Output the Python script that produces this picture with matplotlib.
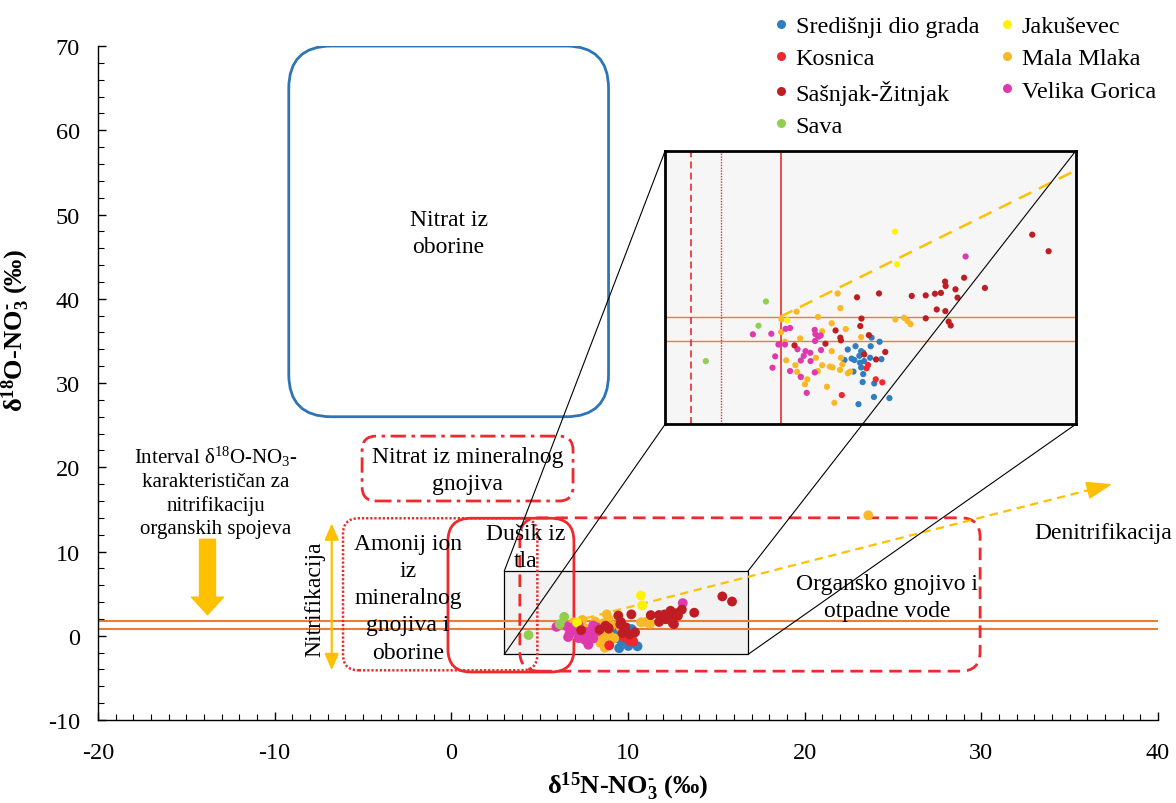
import matplotlib
matplotlib.use("Agg")
import matplotlib.pyplot as plt
from matplotlib.patches import FancyBboxPatch, Rectangle, FancyArrowPatch
from matplotlib.lines import Line2D
from matplotlib.ticker import MultipleLocator

plt.rcParams['font.family'] = ['Liberation Serif', 'DejaVu Serif']
plt.rcParams['mathtext.fontset'] = 'custom'
plt.rcParams['mathtext.rm'] = 'Liberation Serif'
plt.rcParams['mathtext.it'] = 'Liberation Serif:italic'
plt.rcParams['mathtext.bf'] = 'Liberation Serif:bold'
plt.rcParams['lines.scale_dashes'] = False
plt.rcParams['axes.unicode_minus'] = False

# --- data (d15N, d18O) ---
sredisnji_x = [9.14, 9.40, 9.59, 9.53, 9.66, 9.91, 9.94, 10.21, 9.03, 9.27, 9.36, 9.55,
               9.69, 9.89, 10.27, 9.33, 9.59, 9.66, 9.64, 10.03, 10.02, 10.54, 9.50]
sredisnji_y = [0.51, 0.63, 0.45, 0.28, 0.40, 0.63, 0.94, 0.79, 0.13, 0.18, 0.13, 0.03,
               0.09, 0.21, 0.16, -0.29, -0.14, -0.38, -0.67, -0.72, -1.21, -1.25, -1.47]

kosnica_x = [8.94, 10.08, 10.30, 9.82, 9.77]
kosnica_y = [-1.14, -0.57, -0.68, -0.05, -0.17]

sasnjak_x = [9.45, 10.19, 9.60, 9.56, 9.85, 8.73, 8.89, 8.91, 7.35, 8.39, 9.69, 10.09, 10.40,
             11.29, 11.76, 12.07, 12.27, 12.41, 12.43, 12.76, 13.05, 12.83, 13.75, 12.13,
             12.42, 11.76, 12.53, 12.60, 15.34, 15.89]
sasnjak_y = [2.40, 2.54, 1.63, 1.36, 1.03, 1.20, 0.94, 0.84, 0.66, 0.72, 0.33, 0.15, 0.42,
             2.45, 2.47, 2.53, 2.56, 2.97, 2.81, 2.69, 3.11, 2.39, 2.74, 1.96,
             1.90, 1.64, 1.52, 1.38, 4.67, 4.07]

sava_x = [6.39, 6.14, 4.37]
sava_y = [2.25, 1.37, 0.09]

jakusevec_x = [10.73, 10.80, 7.11]
jakusevec_y = [4.78, 3.60, 1.57]

mala_mlaka_x = [8.80, 8.89, 7.42, 8.14, 6.91, 6.90, 7.03, 7.07, 7.54, 8.60, 9.07, 8.28, 9.59,
                8.60, 8.07, 8.13, 8.28, 8.54, 8.63, 8.88, 9.14, 9.22, 8.96, 8.91, 7.38,
                7.44, 7.57, 7.70, 7.78, 8.44, 8.69, 10.74, 11.03, 11.15, 11.25, 23.6]
mala_mlaka_y = [2.54, 2.01, 1.88, 1.69, 1.60, 1.14, 0.79, 0.12, 0.91, 1.46, 1.25, 1.17, 0.96,
                0.45, 0.21, -0.27, -0.06, -0.11, -0.14, -0.23, -0.35, -0.29, -0.03, 0.21, -0.06,
                -0.30, -0.49, -0.75, -0.57, -0.84, -1.42, 1.60, 1.66, 1.54, 1.43, 14.3]

velika_x = [5.95, 6.57, 7.05, 7.20, 8.03, 8.05, 8.23, 8.15, 8.04, 8.24, 6.81, 7.03, 6.70,
            6.61, 7.20, 7.45, 7.66, 7.56, 7.72, 7.88, 7.89, 7.56, 7.76, 8.03, 13.10]
velika_y = [1.06, 1.08, 1.26, 1.29, 1.22, 1.07, 1.02, 0.97, 0.82, 0.49, 0.69, 0.69, 0.26,
            -0.15, -0.27, 0.52, 0.28, 0.11, 0.45, 0.39, 0.09, -0.48, -1.06, -0.32, 3.88]

series = [
    ("Središnji dio grada", sredisnji_x, sredisnji_y, "#2E7EC1"),
    ("Kosnica", kosnica_x, kosnica_y, "#F0282D"),
    ("Sašnjak-Žitnjak", sasnjak_x, sasnjak_y, "#BE1E23"),
    ("Sava", sava_x, sava_y, "#92CF50"),
    ("Jakuševec", jakusevec_x, jakusevec_y, "#FFF200"),
    ("Mala Mlaka", mala_mlaka_x, mala_mlaka_y, "#F9B824"),
    ("Velika Gorica", velika_x, velika_y, "#DE3AAE"),
]
draw_order = [0, 5, 6, 4, 1, 2, 3]

# nitrification interval for d18O and zoom window
interval_y = [0.8, 1.7]
zoom_x = (3.0, 16.8)
zoom_y = (-2.2, 7.7)
denit_start = (6.86, 1.69)
denit_end = (37.4, 18.0)

RED = "#EE2A2E"
ORANGE = "#ED7D31"
YELLOW = "#FFC000"

fig = plt.figure(figsize=(11.76, 8.04), dpi=100)
ax = fig.add_axes([0.0833, 0.1032, 0.9014, 0.8383])
ax.set_xlim(-20, 40)
ax.set_ylim(-10, 70)

# aspect factor so rounded corners come out circular
asp = (0.9014 * 1176 / 60) / (0.8383 * 804 / 80)


def rbox(a, x0, y0, x1, y1, r, **kw):
    p = FancyBboxPatch((x0, y0), x1 - x0, y1 - y0,
                       boxstyle=f"round,pad=0,rounding_size={r}",
                       mutation_aspect=asp, facecolor="none", **kw)
    a.add_patch(p)
    return p


# source boxes
rbox(ax, -9.2, 26.0, 8.9, 70.0, 2.4, edgecolor="#2E75B6", lw=2.0, zorder=2)
rbox(ax, -5.05, 16.0, 6.89, 23.7, 0.8, edgecolor=RED, lw=2.0,
     linestyle=(0, (11, 4, 2.5, 4)), zorder=2)
rbox(ax, -6.13, -4.1, 4.87, 13.95, 0.9, edgecolor=RED, lw=1.8,
     linestyle=(0, (1.6, 1.4)), zorder=2)
rbox(ax, -0.19, -4.3, 6.94, 13.95, 1.3, edgecolor=RED, lw=2.0, zorder=2)
rbox(ax, 3.88, -4.2, 29.93, 14.0, 1.1, edgecolor=RED, lw=2.0,
     linestyle=(0, (9, 5)), zorder=2)

# zoom window
ax.add_patch(Rectangle((zoom_x[0], zoom_y[0]), zoom_x[1] - zoom_x[0], zoom_y[1] - zoom_y[0],
                       facecolor="#F2F2F2", edgecolor="black", lw=0.9, zorder=1))

for yv in interval_y:
    ax.axhline(yv, color=ORANGE, lw=1.5, zorder=1.5)

# denitrification arrow
ax.plot([denit_start[0], denit_end[0] - 1.2], [denit_start[1], denit_end[1] - 0.64],
        color=YELLOW, lw=1.6, linestyle=(0, (6, 4)), zorder=2.5)
ax.annotate("", xy=denit_end, xytext=(denit_end[0] - 1.5, denit_end[1] - 0.8),
            arrowprops=dict(arrowstyle="-|>,head_width=0.35,head_length=1.0",
                            color=YELLOW, lw=1.2, mutation_scale=16,
                            shrinkA=0, shrinkB=0))

# nitrification double arrow
ax.annotate("", xy=(-6.77, 13.35), xytext=(-6.77, -4.1),
            arrowprops=dict(arrowstyle="<|-|>,head_width=0.3,head_length=0.7",
                            color=YELLOW, lw=1.6, mutation_scale=14,
                            shrinkA=0, shrinkB=0))

# big arrow to interval
ax.add_patch(FancyArrowPatch((-13.8, 11.45), (-13.8, 2.5),
                             arrowstyle="simple,tail_width=0.5,head_width=1.0,head_length=0.55",
                             mutation_scale=23, color=YELLOW, shrinkA=0, shrinkB=0, zorder=3))

# scatter
for i in draw_order:
    name, xs, ys, c = series[i]
    ax.scatter(xs, ys, s=50, color=c, edgecolors="none", zorder=4)

# texts
fs_box = 17
ax.text(-0.15, 47.8, "Nitrat iz\noborine", ha="center", va="center", fontsize=fs_box,
        linespacing=1.35)
ax.text(0.92, 19.7, "Nitrat iz mineralnog\ngnojiva", ha="center", va="center",
        fontsize=fs_box, linespacing=1.4)
ax.text(-2.45, 4.5, "Amonij ion\niz\nmineralnog\ngnojiva i\noborine", ha="center",
        va="center", fontsize=fs_box, linespacing=1.38, zorder=3)
ax.text(4.23, 10.5, "Dušik iz\ntla", ha="center", va="center", fontsize=fs_box,
        linespacing=1.38, zorder=3)
ax.text(24.65, 4.57, "Organsko gnojivo i\notpadne vode", ha="center", va="center",
        fontsize=fs_box, linespacing=1.38, zorder=3)
ax.text(36.9, 12.3, "Denitrifikacija", ha="center", va="center", fontsize=fs_box)
ax.text(-7.72, 4.5, "Nitrifikacija", ha="center", va="center", fontsize=fs_box,
        rotation=90)
ax.text(-13.35, 17.2,
        "Interval $\\mathrm{δ^{18}O‐NO_3}$-\nkarakterističan za\nnitrifikaciju\norganskih spojeva",
        ha="center", va="center", fontsize=15, linespacing=1.28)

# axes styling
for side in ["top", "right"]:
    ax.spines[side].set_visible(False)
ax.spines["left"].set_linewidth(1.0)
ax.spines["bottom"].set_linewidth(1.0)
ax.xaxis.set_major_locator(MultipleLocator(10))
ax.xaxis.set_minor_locator(MultipleLocator(1))
ax.yaxis.set_major_locator(MultipleLocator(10))
ax.yaxis.set_minor_locator(MultipleLocator(2))
ax.tick_params(which="both", direction="in", labelsize=17.5)
ax.tick_params(axis="x", which="both", pad=16)
ax.tick_params(axis="y", which="both", pad=13)
ax.tick_params(which="major", length=6, width=1)
ax.tick_params(which="minor", length=4, width=0.8)
ax.set_xlabel("$\\mathbf{δ^{15}N‐NO_3^{‐}\\ (‰)}$", fontsize=19)
ax.set_ylabel("$\\mathbf{δ^{18}O‐NO_3^{‐}\\ (‰)}$", fontsize=19)
ax.xaxis.set_label_coords(0.5, -0.074)
ax.yaxis.set_label_coords(-0.062, 0.58)

# inset (zoomed view)
x0_px, x1_px, y0_px, y1_px = 12.1, 35.34, 25.1, 57.54
axin = ax.inset_axes([x0_px, y0_px, x1_px - x0_px, y1_px - y0_px], transform=ax.transData)
axin.set_xlim(*zoom_x)
axin.set_ylim(*zoom_y)
axin.set_facecolor("#F6F6F6")
axin.set_xticks([])
axin.set_yticks([])
for sp in axin.spines.values():
    sp.set_linewidth(2.0)
for yv in interval_y:
    axin.axhline(yv, color=ORANGE, lw=1.0, zorder=1)
axin.axvline(3.88, color=RED, lw=1.2, linestyle=(0, (5, 3)), zorder=1)
axin.axvline(4.87, color=RED, lw=1.0, linestyle=(0, (1, 1)), zorder=1)
axin.axvline(6.90, color=RED, lw=1.2, zorder=1)
axin.plot([denit_start[0], denit_end[0]], [denit_start[1], denit_end[1]],
          color=YELLOW, lw=1.8, linestyle=(0, (10, 6)), zorder=2)
for i in draw_order:
    name, xs, ys, c = series[i]
    axin.scatter(xs, ys, s=20, color=c, edgecolors="none", zorder=3)

# connector lines between zoom window and inset
for (ax_x, ax_y), (in_x, in_y) in [((zoom_x[0], zoom_y[1]), (x0_px, y1_px)),
                                   ((zoom_x[0], zoom_y[0]), (x0_px, y0_px)),
                                   ((zoom_x[1], zoom_y[1]), (x1_px, y1_px)),
                                   ((zoom_x[1], zoom_y[0]), (x1_px, y0_px))]:
    fig.add_artist(Line2D([ax_x, in_x], [ax_y, in_y], transform=ax.transData,
                          color="black", lw=0.8, zorder=6))

# legend
handles = [Line2D([], [], marker="o", linestyle="none", markersize=6.5,
                  markerfacecolor=c, markeredgecolor="none", label=n)
           for n, _, _, c in series]
fig.legend(handles=handles, loc="upper left", bbox_to_anchor=(0.658, 0.980), ncol=2,
           frameon=False, fontsize=17.5, handlelength=0.6, handletextpad=0.3,
           labelspacing=0.42, columnspacing=0.85, borderpad=0, borderaxespad=0)

fig.savefig("out.png", dpi=100)
